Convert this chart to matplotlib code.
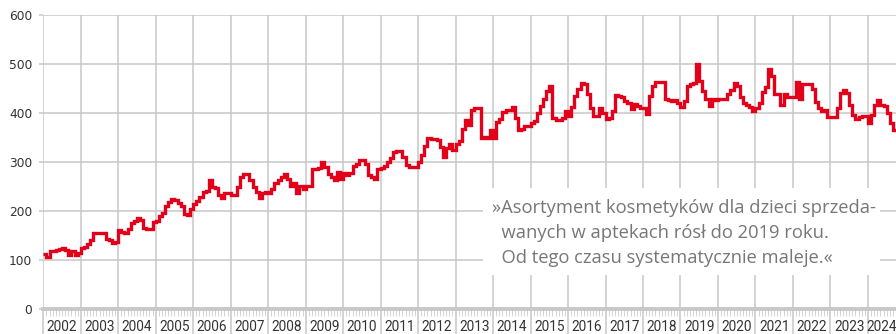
import numpy as np
import matplotlib.pyplot as plt
from matplotlib.patches import Rectangle
import matplotlib.transforms as mtransforms

# miesięczna liczba produktów, styczeń 2002 - wrzesień 2024
y2002 = [112, 107, 118, 118, 121, 123, 125, 121, 110, 119, 110, 115]
y2003 = [124, 126, 132, 140, 156, 156, 155, 156, 143, 141, 135, 137]
y2004 = [161, 158, 156, 163, 176, 180, 186, 182, 165, 163, 163, 178]
y2005 = [180, 190, 197, 210, 218, 225, 222, 216, 210, 194, 193, 205]
y2006 = [214, 220, 228, 238, 241, 263, 250, 248, 233, 227, 236, 236]
y2007 = [233, 233, 250, 270, 275, 275, 263, 250, 240, 226, 236, 238]
y2008 = [236, 246, 257, 263, 270, 275, 266, 252, 257, 236, 252, 246]
y2009 = [252, 252, 285, 285, 288, 301, 291, 275, 270, 263, 279, 266]
y2010 = [277, 273, 277, 292, 296, 304, 304, 297, 273, 270, 265, 287]
y2011 = [288, 292, 300, 309, 321, 322, 322, 310, 294, 291, 291, 290]
y2012 = [301, 314, 333, 350, 347, 348, 345, 331, 311, 328, 338, 324]
y2013 = [338, 343, 367, 386, 375, 406, 410, 410, 350, 352, 350, 365]
y2014 = [350, 382, 389, 403, 406, 406, 412, 390, 365, 368, 373, 373]
y2015 = [379, 384, 400, 415, 430, 445, 455, 390, 386, 386, 390, 404]
y2016 = [395, 412, 435, 450, 462, 460, 440, 410, 395, 395, 410, 400]
y2017 = [389, 390, 405, 437, 435, 433, 425, 420, 408, 418, 414, 410]
y2018 = [410, 399, 435, 455, 463, 464, 464, 430, 427, 425, 427, 420]
y2019 = [412, 425, 455, 460, 462, 500, 465, 445, 430, 415, 428, 427]
y2020 = [428, 428, 430, 440, 447, 462, 455, 433, 420, 416, 412, 405]
y2021 = [410, 420, 443, 454, 491, 477, 440, 440, 417, 439, 433, 433]
y2022 = [433, 464, 430, 460, 459, 459, 450, 423, 410, 405, 406, 392]
y2023 = [392, 392, 410, 442, 448, 441, 416, 396, 389, 392, 395, 395]
y2024 = [380, 396, 416, 427, 416, 414, 400, 379, 365]

years = list(range(2002, 2025))
y_ticks = [0, 100, 200, 300, 400, 500, 600]

values = np.array(y2002 + y2003 + y2004 + y2005 + y2006 + y2007 + y2008 + y2009
                  + y2010 + y2011 + y2012 + y2013 + y2014 + y2015 + y2016 + y2017
                  + y2018 + y2019 + y2020 + y2021 + y2022 + y2023 + y2024)
n = len(values)

grid_col = "#c8c8c8"

fig = plt.figure(figsize=(8.96, 3.34), dpi=100)
ax = fig.add_axes([0.0483, 0.0749, 0.9517, 0.8793])

ax.stairs(values, np.arange(n + 1), baseline=None, color="#e2001a", lw=2.4,
          zorder=3, joinstyle="miter")

ax.set_xlim(0, n)
ax.set_ylim(0, 600)

# lata jako główne podziałki, miesiące jako pomocnicze
year_starts = np.arange(0, n, 12)
ax.set_xticks(year_starts)
ax.set_xticklabels([])
ax.set_xticks([m for m in range(n) if m % 12 != 0], minor=True)
ax.tick_params(axis="x", which="major", length=18, width=1.1, color=grid_col)
ax.tick_params(axis="x", which="minor", length=5, width=0.7, color="#d4d4d4")

ax.set_yticks(y_ticks)
ax.tick_params(axis="y", length=3, width=1.1, color=grid_col, pad=5,
               labelsize=8.8, labelcolor="#333333")

ax.grid(True, which="major", color=grid_col, lw=1.1)
ax.set_axisbelow(True)

for side in ["top", "right", "left"]:
    ax.spines[side].set_visible(False)
ax.spines["bottom"].set_color(grid_col)
ax.spines["bottom"].set_linewidth(2.8)

# podpisy lat na środku każdego roku
trans = mtransforms.blended_transform_factory(ax.transData, ax.transAxes)
for i, yr in enumerate(years):
    start = i * 12
    end = min(start + 12, n)
    ax.text((start + end) / 2, -0.061, str(yr), transform=trans, ha="center",
            va="center", fontsize=9.8, family="Roboto", color="#333333")

# biała ramka z cytatem
ax.add_patch(Rectangle((0.5157, 0.1156), 0.4656, 0.296, transform=ax.transAxes,
                       facecolor="white", edgecolor="none", zorder=2))
quote = ("»Asortyment kosmetyków dla dzieci sprzeda-\n"
         "  wanych w aptekach rósł do 2019 roku.\n"
         "  Od tego czasu systematycznie maleje.«")
ax.text(0.526, 0.374, quote, transform=ax.transAxes, ha="left", va="top",
        fontsize=13.2, family="Open Sans", color="#777777", linespacing=1.5,
        zorder=4)

fig.savefig("out.png", dpi=100)
